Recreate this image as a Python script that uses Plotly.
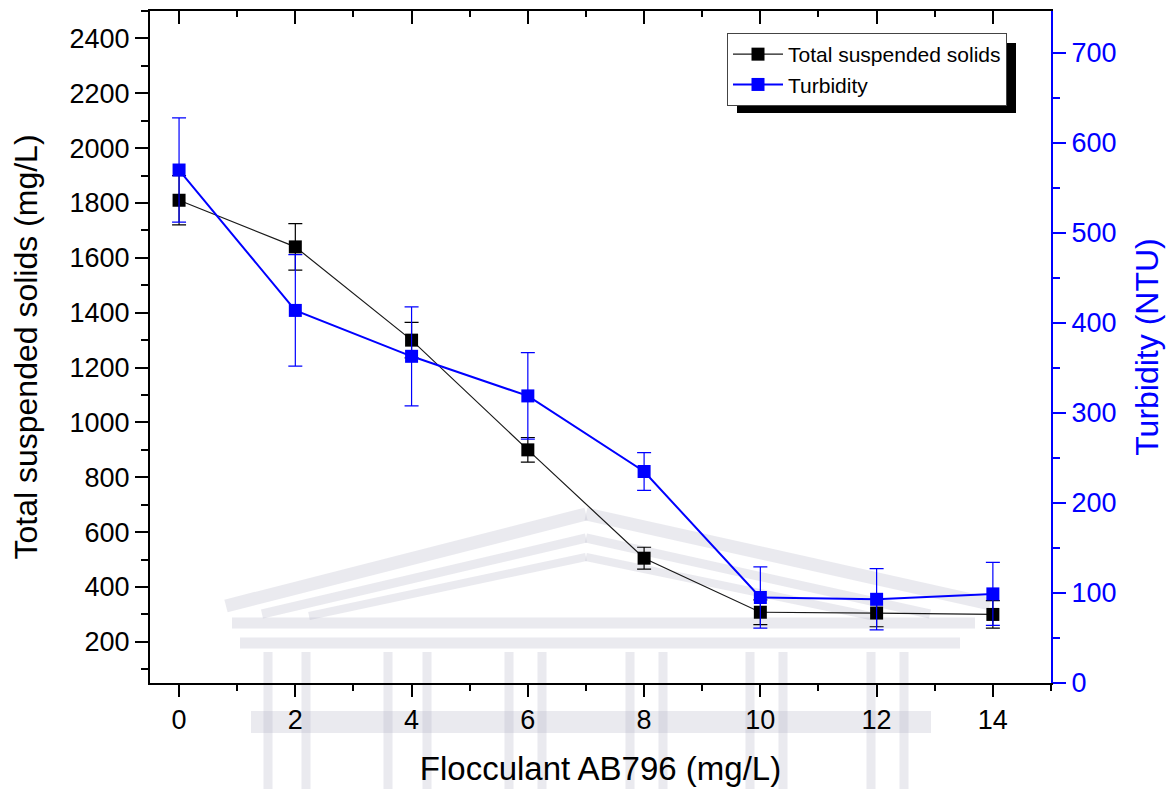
import plotly.graph_objects as go

# ---------------- data ----------------
dose = [0, 2, 4, 6, 8, 10, 12, 14]
tss = [1810, 1640, 1300, 900, 505, 308, 305, 300]
tss_err = [90, 85, 65, 45, 40, 45, 50, 50]
turb = [570, 414, 363, 319, 235, 95, 93, 99]
turb_err = [58, 62, 55, 48, 21, 34, 34, 35]

x_ticks = [0, 2, 4, 6, 8, 10, 12, 14]

# ---------------- layout geometry (pixels) ----------------
W, H = 1169, 789
L, R, T, B = 150, 118, 11, 106
PW, PH = W - L - R, H - T - B


def px(x):
    return (x - L) / PW


def py(y):
    return (H - B - y) / PH


FONT = "Arial, Liberation Sans, sans-serif"
BLUE = "#0000ff"

fig = go.Figure()

fig.add_trace(go.Scatter(
    x=dose, y=turb, name="Turbidity", yaxis="y2",
    mode="lines+markers",
    line=dict(color=BLUE, width=2),
    marker=dict(symbol="square", size=13, color=BLUE),
    error_y=dict(type="data", array=turb_err, color=BLUE, thickness=1.2, width=7),
))
fig.add_trace(go.Scatter(
    x=dose, y=tss, name="Total suspended solids",
    mode="lines+markers",
    line=dict(color="#1a1a1a", width=1.2),
    marker=dict(symbol="square", size=13, color="black"),
    error_y=dict(type="data", array=tss_err, color="black", thickness=1.2, width=7),
))
# dummy trace so the mirrored top axis is drawn
fig.add_trace(go.Scatter(x=[None], y=[None], xaxis="x2", showlegend=False,
                         hoverinfo="skip"))

# ---------------- watermark (faint building) ----------------
wm = "rgba(175,175,195,0.26)"
shapes = []


def seg(x0, y0, x1, y1, w):
    shapes.append(dict(type="line", xref="paper", yref="paper", layer="below",
                       x0=px(x0), y0=py(y0), x1=px(x1), y1=py(y1),
                       line=dict(color=wm, width=w)))


# pediment lines
seg(226, 606, 586, 514, 13)
seg(586, 514, 990, 604, 13)
seg(262, 614, 586, 538, 9)
seg(586, 538, 930, 614, 9)
seg(309, 616, 586, 557, 8)
seg(586, 557, 871, 616, 8)
# entablature bands
seg(232, 623, 975, 623, 11)
seg(240, 643, 960, 643, 11)
seg(251, 722, 931, 722, 22)
# columns
for cx in [268, 306, 388, 427, 509, 542, 630, 663, 750, 783, 871, 904]:
    seg(cx, 652, cx, 789, 9)

# legend shadow
shapes.append(dict(type="rect", xref="paper", yref="paper", layer="above",
                   x0=px(737), x1=px(1016), y0=py(113), y1=py(43),
                   fillcolor="black", line=dict(width=0)))

tickfont = dict(family=FONT, size=27, color="black")

fig.update_layout(
    width=W, height=H,
    margin=dict(l=L, r=R, t=T, b=B, autoexpand=False),
    paper_bgcolor="white", plot_bgcolor="white",
    font=dict(family=FONT, color="black"),
    shapes=shapes,
    showlegend=True,
    legend=dict(x=px(727), y=py(33), xanchor="left", yanchor="top",
                bgcolor="white", bordercolor="#444444", borderwidth=1,
                font=dict(family=FONT, size=21, color="black"),
                tracegroupgap=0, traceorder="reversed",
                itemwidth=50),
    xaxis=dict(
        range=[-0.5, 15], tickvals=x_ticks, ticktext=[str(v) for v in x_ticks],
        automargin=False,
        ticks="outside", ticklen=12, tickwidth=2, tickcolor="black",
        minor=dict(dtick=1, tick0=0, ticks="outside", ticklen=6, tickwidth=2, tickcolor="black"),
        showline=True, linecolor="black", linewidth=2, showgrid=False, zeroline=False,
        tickfont=tickfont,
        title=dict(text="Flocculant AB796 (mg/L)", font=dict(family=FONT, size=33), standoff=22),
    ),
    xaxis2=dict(
        range=[-0.5, 15], overlaying="x", side="top", anchor="y", automargin=False,
        tickvals=x_ticks, showticklabels=False,
        ticks="inside", ticklen=13, tickwidth=2, tickcolor="black",
        minor=dict(dtick=1, tick0=0, ticks="inside", ticklen=6, tickwidth=2, tickcolor="black"),
        showline=True, linecolor="black", linewidth=2, showgrid=False, zeroline=False,
    ),
    yaxis=dict(
        range=[50, 2500], dtick=200, tick0=200, automargin=False,
        ticks="outside", ticklen=13, tickwidth=2, tickcolor="black",
        minor=dict(dtick=100, tick0=0, ticks="outside", ticklen=7, tickwidth=2, tickcolor="black"),
        showline=True, linecolor="black", linewidth=2, showgrid=False, zeroline=False,
        tickfont=tickfont,
        title=dict(text="Total suspended solids (mg/L)", font=dict(family=FONT, size=32), standoff=22),
    ),
    yaxis2=dict(
        range=[0, 746.7], dtick=100, tick0=0, overlaying="y", side="right", anchor="x",
        automargin=False,
        ticks="outside", ticklen=13, tickwidth=2, tickcolor=BLUE,
        minor=dict(dtick=50, tick0=0, ticks="outside", ticklen=7, tickwidth=2, tickcolor=BLUE),
        showline=True, linecolor=BLUE, linewidth=2, showgrid=False, zeroline=False,
        tickfont=dict(family=FONT, size=27, color=BLUE),
        title=dict(text="Turbidity (NTU)", font=dict(family=FONT, size=32, color=BLUE), standoff=20),
    ),
)

fig.write_html("out.html")
